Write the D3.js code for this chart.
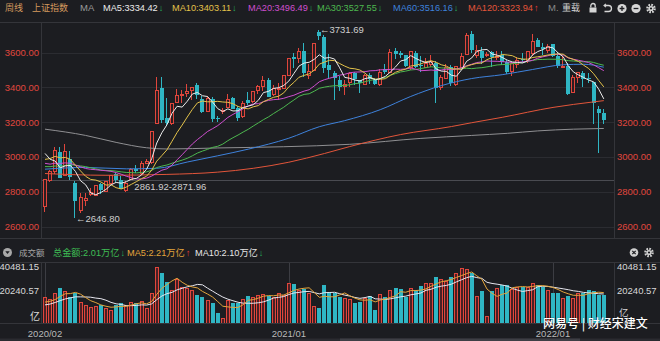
<!DOCTYPE html>
<html><head><meta charset="utf-8">
<script src="https://cdn.jsdelivr.net/npm/d3@7"></script>
<style>
html,body{margin:0;padding:0;background:#1c1d21;}
svg{display:block;font-family:"Liberation Sans",Arial,"Noto Sans CJK SC",sans-serif;}
</style></head><body>
<svg id="c" width="660" height="341"></svg>
<script>
// ---------- DATA ----------
const weeks = [
"2020-02-07","2020-02-14","2020-02-21","2020-02-28","2020-03-06","2020-03-13","2020-03-20","2020-03-27","2020-04-03","2020-04-10",
"2020-04-17","2020-04-24","2020-04-30","2020-05-08","2020-05-15","2020-05-22","2020-05-29","2020-06-05","2020-06-12","2020-06-19",
"2020-06-24","2020-07-03","2020-07-10","2020-07-17","2020-07-24","2020-07-31","2020-08-07","2020-08-14","2020-08-21","2020-08-28",
"2020-09-04","2020-09-11","2020-09-18","2020-09-25","2020-09-30","2020-10-09","2020-10-16","2020-10-23","2020-10-30","2020-11-06",
"2020-11-13","2020-11-20","2020-11-27","2020-12-04","2020-12-11","2020-12-18","2020-12-25","2020-12-31","2021-01-08","2021-01-15",
"2021-01-22","2021-01-29","2021-02-05","2021-02-10","2021-02-19","2021-02-26","2021-03-05","2021-03-12","2021-03-19","2021-03-26",
"2021-04-02","2021-04-09","2021-04-16","2021-04-23","2021-04-30","2021-05-07","2021-05-14","2021-05-21","2021-05-28","2021-06-04",
"2021-06-11","2021-06-18","2021-06-25","2021-07-02","2021-07-09","2021-07-16","2021-07-23","2021-07-30","2021-08-06","2021-08-13",
"2021-08-20","2021-08-27","2021-09-03","2021-09-10","2021-09-17","2021-09-24","2021-09-30","2021-10-08","2021-10-15","2021-10-22",
"2021-10-29","2021-11-05","2021-11-12","2021-11-19","2021-11-26","2021-12-03","2021-12-10","2021-12-17","2021-12-24","2021-12-31",
"2022-01-07","2022-01-14","2022-01-21","2022-01-28","2022-02-11","2022-02-18","2022-02-25","2022-03-04","2022-03-11","2022-03-18",
"2022-03-25"];

const open = [2717,2870,2918,3031,2899,2988,2853,2696,2750,2786,2782,2845,2805,2852,2900,2865,2810,2875,2933,2908,
2965,2974,3195,3399,3224,3195,3317,3356,3367,3383,3413,3336,3266,3335,3223,3262,3286,3339,3280,3237,
3327,3320,3385,3408,3441,3362,3390,3398,3474,3577,3567,3607,3474,3502,3721,3688,3531,3480,3444,3408,
3429,3480,3443,3418,3470,3442,3420,3508,3488,3609,3598,3584,3520,3600,3530,3520,3535,3543,3400,3454,
3515,3420,3515,3594,3709,3584,3611,3584,3603,3577,3588,3547,3494,3536,3565,3558,3600,3670,3630,3614,
3649,3583,3520,3522,3371,3459,3481,3455,3430,3275,3254];
const high = [2876,2926,3058,3058,3074,3036,2860,2794,2793,2824,2841,2852,2861,2896,2909,2891,2861.92,2936,2956,2976,
2988,3152,3458,3459,3337,3313,3391,3387,3421,3404,3426,3348,3349,3343,3235,3280,3361,3347,3294,3321,
3374,3379,3411,3465,3452,3415,3428,3474,3571,3600,3626,3655,3534,3655,3731.69,3702,3594,3495,3468,3444,
3490,3489,3445,3479,3481,3456,3503,3532,3622,3626,3611,3588,3607,3610,3581,3567,3584,3553,3473,3532,
3526,3524,3600,3715,3723,3642,3634,3601,3611,3609,3610,3558,3546,3576,3598,3608,3708,3682,3658,3650,
3652,3601,3582,3540,3470,3491,3493,3481,3430,3295,3273];
const low = [2685,2858,2905,2878,2899,2870,2646.80,2676,2717,2778,2774,2789,2796,2848,2857,2814,2798,2871.96,2908,2899,
2960,2962,3195,3196,3176,3185,3316,3310,3346,3330,3332,3254,3266,3202,3202,3246,3286,3276,3209,3227,
3300,3313,3362,3380,3343,3353,3326,3389,3474,3514,3541,3460,3446,3495,3672,3481,3455,3328,3377,3357,
3405,3414,3368,3418,3419,3415,3409,3476,3486,3561,3568,3515,3499,3509,3487,3517,3520,3312,3383,3447,
3410,3409,3505,3591,3595,3567,3535,3574,3515,3560,3527,3475,3467,3510,3541,3542,3578,3630,3589,3598,
3573,3509,3510,3357,3369,3426,3400,3424,3190,3023.30,3187];
const close = [2876,2917,3039,2880,3034,2887,2745,2772,2764,2797,2839,2809,2860,2895,2868,2814,2852,2931,2920,2968,
2979,3152,3383,3214,3196,3310,3354,3360,3381,3404,3355,3260,3338,3219,3218,3272,3336,3278,3225,3312,
3310,3377,3408,3444,3347,3395,3397,3473,3570,3566,3607,3483,3496,3655,3696,3509,3502,3453,3405,3418,
3484,3451,3426,3474,3447,3418,3490,3487,3601,3592,3589,3525,3607,3519,3524,3540,3550,3397,3458,3517,
3427,3522,3581,3703,3614,3613,3568,3592,3572,3582,3547,3491,3539,3560,3564,3607,3666,3632,3618,3640,
3580,3521,3523,3361,3462,3491,3451,3447,3309,3251,3212];
// weekly closes before the first visible week (Jul 2019 - Jan 2020), used by the short moving averages
const preCloses = [3011,2930,2924,2944,2868,2774,2823,2897,2886,2999,3031,3006,2932,2905,2973,2938,2955,2958,2964,2891,
2885,2872,2912,2968,3005,3005,3083,3092,3075,2976];
// weekly turnover, 亿元
const volume = [18414,16981,21710,24863,23143,18844,21280,15261,12897,11679,12180,12897,10533,9314,12897,14115,12897,15261,14115,15978,
10533,21710,40481.15,35610,29591,23645,31311,26009,24863,23645,20062,18844,16480,14115,7380,3368,16480,14545,14115,16981,
19346,18844,20062,20779,19346,18844,21280,20062,28875,27944,23645,24146,21710,12180,10533,27227,22426,21710,18844,17698,
16981,14115,15261,17698,19346,9314,20779,18844,23645,24863,24146,18844,24863,23645,26511,28445,28445,33174,31311,30308,
33174,35610,39800,38476,36040,19346,23143,5016,23143,24863,27227,27227,24146,26009,26009,26009,28875,27227,26009,23645,
21800,21500,18300,19700,18200,21500,21800,23800,23300,20100,20100].slice(0,111);
const preVolumes = [11000,10500,11500,10800,11200,14000,15500,13500,13600];
// long moving averages: [week, value]
const ma60pts = [["2020-02-07",2930],["2020-04-03",2940],["2020-05-29",2932],["2020-07-10",2935],["2020-08-21",2971],
["2020-09-30",3007],["2020-11-13",3045],["2021-01-08",3108],["2021-02-19",3174],["2021-03-26",3209],["2021-05-14",3272],
["2021-06-25",3348],["2021-08-06",3410],["2021-09-17",3451],["2021-10-29",3473],["2021-12-10",3503],["2022-01-21",3530],
["2022-02-25",3533],["2022-03-25",3516.16]];
const ma120pts = [["2020-02-07",2905],["2020-04-30",2895],["2020-07-24",2900],["2020-09-30",2913],["2020-11-20",2935],
["2021-01-08",2970],["2021-02-26",3020],["2021-04-02",3060],["2021-06-11",3129],["2021-08-20",3175],["2021-09-17",3197],
["2021-10-29",3228],["2022-01-07",3285],["2022-02-11",3302],["2022-03-25",3323.94]];
const ma250pts = [["2020-02-07",3160],["2020-04-03",3124],["2020-05-15",3084],["2020-06-24",3053],["2020-07-24",3046],
["2020-09-30",3052],["2020-12-31",3059],["2021-04-02",3073],["2021-07-09",3107],["2021-09-17",3124],["2021-11-05",3136],
["2021-12-17",3150],["2022-02-11",3160],["2022-03-25",3164]];
const priceTicks = [2600,2800,3000,3200,3400,3600];
const volTickLabels = ["40481.15","20240.57"];
const xTickWeeks = ["2020-02-07","2021-01-08","2022-01-07"];
const xTickLabels = ["2020/02","2021/01","2022/01"];
const gapRange = [2861.92, 2871.96];

// ---------- STYLE ----------
const BG = "#1c1d21", UP = "#e0463c", UPFILL = "#2d1d20", DOWN = "#2fb6c4";
const GRID = "#2b2c31", FRAME = "#34353a";
const C = {ma5:"#ececec", ma10:"#e3c24a", ma20:"#cf4fcf", ma30:"#4db84f", ma60:"#3e82dc", ma120:"#e2553a", ma250:"#8f8f92"};

const svg = d3.select("#c");
svg.append("rect").attr("width",660).attr("height",341).attr("fill",BG);

const x = d3.scalePoint().domain(weeks).range([45, 603.8]);
const yP = d3.scaleLinear().domain([2600,3600]).range([226.6, 52.6]);
const yV = d3.scaleLinear().domain([0, 40481.15]).range([323, 266.6]);
const px = w => Math.round(x(w));

const defs = svg.append("defs");
defs.append("clipPath").attr("id","clipP").append("rect").attr("x",42).attr("y",23).attr("width",572).attr("height",215);
defs.append("clipPath").attr("id","clipV").append("rect").attr("x",42).attr("y",262).attr("width",572).attr("height",61);

// ---------- FRAME ----------
const fr = svg.append("g").attr("stroke",FRAME).attr("stroke-width",1).attr("shape-rendering","crispEdges");
[22.5,238.5,262.5,323.5].forEach(y=>fr.append("line").attr("x1",0).attr("x2",660).attr("y1",y).attr("y2",y));
[41.5,614.5].forEach(xx=>{
  fr.append("line").attr("x1",xx).attr("x2",xx).attr("y1",22.5).attr("y2",238.5);
  fr.append("line").attr("x1",xx).attr("x2",xx).attr("y1",262.5).attr("y2",323.5);
});
// price grid
svg.append("g").selectAll("line").data(priceTicks).join("line")
  .attr("x1",42).attr("x2",614).attr("y1",d=>Math.round(yP(d))+0.5).attr("y2",d=>Math.round(yP(d))+0.5)
  .attr("stroke",GRID).attr("shape-rendering","crispEdges");
// gap line
const gapY = Math.round(yP(d3.mean(gapRange)))+0.5;
svg.append("line").attr("x1",42).attr("x2",614).attr("y1",gapY).attr("y2",gapY).attr("stroke","#4a4b51").attr("shape-rendering","crispEdges");
// volume ticks
svg.append("g").selectAll("line").data(xTickWeeks).join("line")
  .attr("x1",d=>px(d)+0.5).attr("x2",d=>px(d)+0.5).attr("y1",263).attr("y2",323)
  .attr("stroke","#3c3d43").attr("shape-rendering","crispEdges");

// price axis labels
const axL = svg.append("g").attr("font-size",9.5).attr("fill","#e0473e");
axL.selectAll("text.l").data(priceTicks).join("text").attr("class","l")
  .attr("x",39).attr("y",d=>yP(d)+3.4).attr("text-anchor","end").text(d=>d3.format(".2f")(d));
axL.selectAll("text.r").data(priceTicks).join("text").attr("class","r")
  .attr("x",617).attr("y",d=>yP(d)+3.4).text(d=>d3.format(".2f")(d));

// ---------- CANDLES ----------
const data = weeks.map((w,i)=>({w, o:open[i], h:high[i], l:low[i], c:close[i], v:volume[i], up: close[i]>=open[i]}));
const pg = svg.append("g").attr("clip-path","url(#clipP)");
const kg = pg.append("g").attr("shape-rendering","crispEdges");
kg.selectAll("line").data(data).join("line")
  .attr("x1",d=>px(d.w)-0.5).attr("x2",d=>px(d.w)-0.5)
  .attr("y1",d=>yP(d.h)).attr("y2",d=>yP(d.l))
  .attr("stroke",d=>d.up?UP:DOWN);
kg.selectAll("rect").data(data).join("rect")
  .attr("x",d=>d.up? px(d.w)-1.5 : px(d.w)-2)
  .attr("width",d=>d.up?3:4)
  .attr("y",d=>{const t=Math.round(yP(Math.max(d.o,d.c))); return d.up? t+0.5 : t;})
  .attr("height",d=>Math.max(1, Math.round(yP(Math.min(d.o,d.c)))-Math.round(yP(Math.max(d.o,d.c)))))
  .attr("fill",d=>d.up?UPFILL:DOWN)
  .attr("stroke",d=>d.up?UP:"none");

// ---------- MOVING AVERAGES ----------
function rolling(pre, vals, n){
  const all = pre.concat(vals), off = pre.length;
  return vals.map((_,i)=>d3.mean(all.slice(off+i-n+1, off+i+1)));
}
const lineIdx = d3.line().x((d,i)=>x(weeks[i])).y(d=>yP(d));
const linePts = d3.line().x(d=>x(d[0])).y(d=>yP(d[1])).curve(d3.curveMonotoneX);
const mg = pg.append("g").attr("fill","none").attr("stroke-width",1);
mg.append("path").attr("d",linePts(ma250pts)).attr("stroke",C.ma250);
mg.append("path").attr("d",linePts(ma120pts)).attr("stroke",C.ma120);
mg.append("path").attr("d",linePts(ma60pts)).attr("stroke",C.ma60);
mg.append("path").attr("d",lineIdx(rolling(preCloses,close,30))).attr("stroke",C.ma30);
mg.append("path").attr("d",lineIdx(rolling(preCloses,close,20))).attr("stroke",C.ma20);
mg.append("path").attr("d",lineIdx(rolling(preCloses,close,10))).attr("stroke",C.ma10);
mg.append("path").attr("d",lineIdx(rolling(preCloses,close,5))).attr("stroke",C.ma5);

// annotations
const ann = svg.append("g").attr("font-size",9.5).attr("fill","#cfcfcf");
const iMin = d3.minIndex(low), iMax = d3.maxIndex(high);
ann.append("text").attr("x",px(weeks[iMin])+1).attr("y",yP(low[iMin])+3.4).text("\u2190"+d3.format(".2f")(low[iMin]));
ann.append("text").attr("x",px(weeks[iMax])+1).attr("y",yP(high[iMax])+3.4).text("\u2190"+d3.format(".2f")(high[iMax]));
ann.append("text").attr("x",x(weeks[17])+3).attr("y",gapY+9.5).text(gapRange.map(d3.format(".2f")).join("-"));

// ---------- VOLUME ----------
const vg = svg.append("g").attr("clip-path","url(#clipV)").attr("shape-rendering","crispEdges");
vg.selectAll("rect").data(data).join("rect")
  .attr("x",d=>d.up? px(d.w)-1.5 : px(d.w)-2)
  .attr("width",d=>d.up?3:4)
  .attr("y",d=>{const t=Math.round(yV(d.v)); return d.up? t+0.5 : t;})
  .attr("height",d=>{const h=Math.round(yV(0))-Math.round(yV(d.v)); return Math.max(1, d.up? h-0.5 : h);})
  .attr("fill",d=>d.up?"#4a2024":DOWN)
  .attr("stroke",d=>d.up?UP:"none");
const lineV = d3.line().x((d,i)=>x(weeks[i])).y(d=>yV(d));
const vm = svg.append("g").attr("clip-path","url(#clipV)").attr("fill","none").attr("stroke-width",1);
vm.append("path").attr("d",lineV(rolling(preVolumes,volume,10))).attr("stroke","#e6e6ee");
vm.append("path").attr("d",lineV(rolling(preVolumes,volume,5))).attr("stroke","#e3a53c");

// volume axis labels
const va = svg.append("g").attr("font-size",9.5).attr("fill","#d8d8d8");
[[volTickLabels[0],270.2],[volTickLabels[1],294.2]].forEach(([t,y])=>{
  va.append("text").attr("x",39).attr("y",y).attr("text-anchor","end").text(t);
  va.append("text").attr("x",617).attr("y",y).text(t);
});
va.append("text").attr("x",40).attr("y",320).attr("text-anchor","end").attr("font-size",10).text("亿");
va.append("text").attr("x",619).attr("y",315.5).attr("font-size",9.5).text("亿");

// x labels
svg.append("g").attr("font-size",9.5).attr("fill","#b9b9b9").selectAll("text").data(xTickWeeks).join("text")
  .attr("x",d=>x(d)).attr("y",336.5).attr("text-anchor","middle").text((d,i)=>xTickLabels[i]);

// bottom scrollbar
svg.append("rect").attr("x",0).attr("y",338.5).attr("width",660).attr("height",2.5).attr("fill","#2a2b30");
svg.append("rect").attr("x",340).attr("y",338.5).attr("width",240).attr("height",2.5).attr("fill","#3e3f45");

// ---------- HEADER ----------
const hd = svg.append("g").attr("font-size",9.5);
const GREEN_ARW = "#27b45e", RED_ARW = "#ee3d3d";
hd.append("text").attr("x",5).attr("y",11).attr("fill","#d49a5e").attr("font-size",9).text("周线");
hd.append("text").attr("x",32).attr("y",11).attr("fill","#d49a5e").attr("font-size",9).text("上证指数");
hd.append("text").attr("x",80).attr("y",11).attr("fill","#9a9a9a").text("MA");
const maItems = [
  {x:103, t:"MA5:3334.42", c:C.ma5, dn:true},
  {x:172, t:"MA10:3403.11", c:C.ma10, dn:true},
  {x:248, t:"MA20:3496.49", c:C.ma20, dn:true},
  {x:317, t:"MA30:3527.55", c:C.ma30, dn:true},
  {x:393, t:"MA60:3516.16", c:C.ma60, dn:true},
  {x:468, t:"MA120:3323.94", c:C.ma120, dn:false}
];
maItems.forEach(m=>{
  const t = hd.append("text").attr("x",m.x).attr("y",11).attr("fill",m.c).attr("font-size",9.2);
  t.append("tspan").text(m.t);
  t.append("tspan").attr("fill",m.dn?GREEN_ARW:RED_ARW).attr("dx",1).text(m.dn?"\u2193":"\u2191");
});
hd.append("text").attr("x",548).attr("y",11).attr("fill","#8a8a8a").text("M.");
hd.append("text").attr("x",562).attr("y",11).attr("fill","#d0d0d0").attr("font-size",9).text("重载");
// header icons
const ic = svg.append("g").attr("fill","none").attr("stroke","#d6d6d6").attr("stroke-width",1.3);
ic.append("rect").attr("x",589.5).attr("y",7.5).attr("width",7).attr("height",5).attr("fill","#d6d6d6").attr("stroke","none");
ic.append("path").attr("d","M590.8,7.5 v-1.8 a2.2,2.2 0 0 1 4.4,0 v1.8");
ic.append("path").attr("d","M604.5,5.5 h4 a3,3 0 0 1 0,6 h-4");
ic.append("path").attr("d","M606,3.8 l-2,1.7 l2,1.7").attr("stroke-width",1.1);
ic.append("circle").attr("cx",622).attr("cy",8.5).attr("r",4.6).attr("fill","#d6d6d6").attr("stroke","none");
ic.append("path").attr("d","M619.6,8.5 h4.8 M622,6.1 v4.8").attr("stroke",BG).attr("stroke-width",1.3);
ic.append("circle").attr("cx",636).attr("cy",8.5).attr("r",4.6).attr("fill","#d6d6d6").attr("stroke","none");
ic.append("path").attr("d","M633.6,8.5 h4.8").attr("stroke",BG).attr("stroke-width",1.3);
ic.append("circle").attr("cx",651).attr("cy",8.5).attr("r",3.6).attr("stroke-width",2.4).attr("stroke-dasharray","1.6 1.2");
ic.append("circle").attr("cx",651).attr("cy",8.5).attr("r",2.6).attr("fill","#d6d6d6").attr("stroke","none");
ic.append("circle").attr("cx",651).attr("cy",8.5).attr("r",1.1).attr("fill",BG).attr("stroke","none");

// ---------- VOLUME HEADER ----------
const vh = svg.append("g").attr("font-size",9.2);
vh.append("circle").attr("cx",7.5).attr("cy",252.5).attr("r",4.5).attr("fill","#a8a8a8");
vh.append("path").attr("d","M5.3,251.3 h4.4 l-2.2,2.8 z").attr("fill",BG);
vh.append("text").attr("x",19).attr("y",256).attr("fill","#a8a8a8").attr("font-size",8.5).text("成交额");
const vItems = [
  {x:53, t:"总金额:2.01万亿", c:"#3fbf55", dn:true},
  {x:127, t:"MA5:2.21万亿", c:"#e3a53c", dn:false},
  {x:195, t:"MA10:2.10万亿", c:"#e6e6e6", dn:true}
];
vItems.forEach(m=>{
  const t = vh.append("text").attr("x",m.x).attr("y",256).attr("fill",m.c);
  t.append("tspan").text(m.t);
  t.append("tspan").attr("fill",m.dn?GREEN_ARW:RED_ARW).attr("dx",1).text(m.dn?"\u2193":"\u2191");
});
vh.append("circle").attr("cx",634).attr("cy",252.5).attr("r",4.3).attr("fill","#cfcfcf");
vh.append("path").attr("d","M632.3,250.8 l3.4,3.4 M635.7,250.8 l-3.4,3.4").attr("stroke",BG).attr("stroke-width",1.2);
vh.append("circle").attr("cx",649).attr("cy",252.5).attr("r",3.6).attr("fill","none").attr("stroke","#cfcfcf").attr("stroke-width",2.4).attr("stroke-dasharray","1.6 1.2");
vh.append("circle").attr("cx",649).attr("cy",252.5).attr("r",2.6).attr("fill","#cfcfcf");
vh.append("circle").attr("cx",649).attr("cy",252.5).attr("r",1.1).attr("fill",BG);

// ---------- WATERMARK ----------
svg.append("text").attr("x",543).attr("y",327.5).attr("font-size",12)
  .attr("font-family","'Noto Sans CJK SC',sans-serif").attr("font-weight",500)
  .attr("fill","#ffffff").attr("stroke","rgba(0,0,0,0.35)").attr("stroke-width",0.6).attr("paint-order","stroke")
  .text("网易号 | 财经宋建文");
</script>
</body></html>
